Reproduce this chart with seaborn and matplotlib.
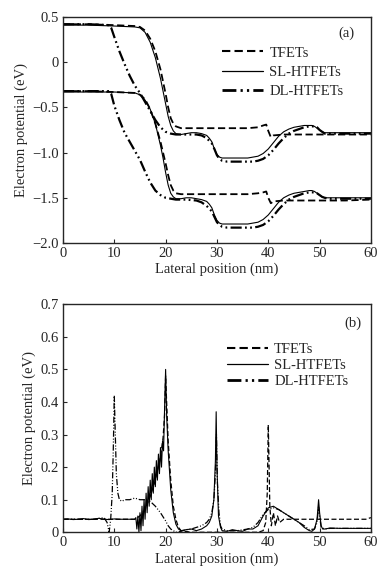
import matplotlib
matplotlib.use("Agg")
import matplotlib.pyplot as plt
from matplotlib.lines import Line2D
import seaborn as sns

# --- DATA: panel (a), conduction band (upper group) ---
tf_cb_x = [0, 5, 10, 14, 15, 16, 17, 18, 19, 20, 20.5, 21, 21.5, 22, 23, 24, 30, 36, 38, 39, 39.6,
           40.0, 40.5, 41, 43, 50, 55, 60]
tf_cb_y = [0.42, 0.42, 0.41, 0.40, 0.39, 0.35, 0.26, 0.12, -0.08, -0.35, -0.50, -0.62, -0.68, -0.71,
           -0.73, -0.73, -0.73, -0.73, -0.72, -0.70, -0.69, -0.76, -0.83, -0.81, -0.80, -0.80, -0.80, -0.80]

sl_x = [0, 5, 10, 14, 15, 16, 17, 18, 19, 19.5, 20, 20.5, 21, 21.5, 22, 23, 24, 25, 26, 27, 28, 28.5,
        29, 29.5, 30, 30.5, 31, 32, 34, 36, 37, 38, 39, 40, 41, 42, 43, 44, 45, 46, 47, 48, 48.5, 49,
        49.5, 50, 50.5, 51, 52, 55, 60]
sl_cb_y = [0.41, 0.41, 0.40, 0.39, 0.38, 0.33, 0.22, 0.05, -0.18, -0.32, -0.46, -0.60, -0.70, -0.76,
           -0.79, -0.80, -0.79, -0.78, -0.78, -0.79, -0.81, -0.84, -0.88, -0.96, -1.02, -1.05, -1.06,
           -1.06, -1.06, -1.06, -1.05, -1.04, -1.01, -0.96, -0.89, -0.82, -0.77, -0.74, -0.72, -0.71,
           -0.70, -0.70, -0.70, -0.71, -0.73, -0.75, -0.77, -0.78, -0.78, -0.78, -0.78]

dl_x = [0, 5, 9, 9.4, 10, 11, 12, 13, 14, 15, 16, 17, 18, 19, 20, 21, 22, 24, 26, 27, 28, 29, 29.5,
        30, 30.5, 31, 32, 34, 36, 37, 38, 39, 40, 41, 42, 43, 44, 45, 46, 47, 48, 49, 49.5, 50, 50.5,
        51, 52, 55, 60]
dl_cb_y = [0.42, 0.42, 0.41, 0.38, 0.28, 0.12, -0.02, -0.15, -0.26, -0.34, -0.44, -0.54, -0.64, -0.72,
           -0.77, -0.79, -0.80, -0.80, -0.80, -0.81, -0.84, -0.90, -0.96, -1.03, -1.07, -1.09, -1.10,
           -1.10, -1.10, -1.10, -1.09, -1.07, -1.03, -0.97, -0.90, -0.84, -0.79, -0.76, -0.74, -0.72,
           -0.71, -0.71, -0.72, -0.75, -0.77, -0.79, -0.79, -0.79, -0.79]

# --- DATA: panel (a), valence band (lower group) ---
tf_vb_y = [-0.32, -0.32, -0.33, -0.34, -0.36, -0.41, -0.52, -0.68, -0.88, -1.12, -1.25, -1.36, -1.42,
           -1.45, -1.46, -1.46, -1.46, -1.46, -1.45, -1.44, -1.43, -1.50, -1.56, -1.54, -1.53, -1.53,
           -1.53, -1.52]
sl_vb_y = [-0.33, -0.33, -0.33, -0.34, -0.36, -0.42, -0.52, -0.68, -0.92, -1.06, -1.22, -1.36, -1.45,
           -1.49, -1.51, -1.51, -1.50, -1.50, -1.51, -1.52, -1.54, -1.57, -1.61, -1.69, -1.75, -1.78,
           -1.79, -1.79, -1.79, -1.79, -1.78, -1.77, -1.74, -1.69, -1.62, -1.55, -1.50, -1.47, -1.45,
           -1.44, -1.43, -1.42, -1.42, -1.43, -1.45, -1.47, -1.49, -1.50, -1.50, -1.50, -1.50]
dl_vb_y = [-0.32, -0.32, -0.32, -0.35, -0.48, -0.64, -0.78, -0.88, -0.98, -1.08, -1.21, -1.33, -1.42,
           -1.47, -1.50, -1.51, -1.52, -1.52, -1.53, -1.55, -1.59, -1.65, -1.71, -1.77, -1.80, -1.82,
           -1.83, -1.83, -1.83, -1.83, -1.82, -1.80, -1.76, -1.70, -1.63, -1.57, -1.52, -1.49, -1.47,
           -1.45, -1.44, -1.44, -1.45, -1.47, -1.49, -1.50, -1.51, -1.51, -1.51]

# --- DATA: panel (b) ---
tf_b_x = [0, 2, 4, 6, 8, 10, 12, 14, 15, 16, 17, 18, 19, 19.5, 19.8, 20.0, 20.2, 20.5, 21, 21.5, 22,
          22.5, 23, 25, 30, 35, 38, 39, 39.5, 39.8, 40.0, 40.1, 40.3, 40.6, 41, 41.4, 41.8, 42.2, 43,
          45, 50, 55, 59, 60]
tf_b_y = [0.04, 0.04, 0.04, 0.04, 0.04, 0.04, 0.04, 0.04, 0.05, 0.07, 0.11, 0.16, 0.23, 0.29, 0.36,
          0.48, 0.40, 0.28, 0.16, 0.08, 0.04, 0.015, 0.005, 0.0, 0.0, 0.0, 0.0, 0.005, 0.03, 0.12, 0.33,
          0.25, 0.08, 0.02, 0.06, 0.02, 0.05, 0.03, 0.04, 0.04, 0.04, 0.04, 0.04, 0.045]

sl_b_x = [0, 1, 2, 3, 4, 5, 6, 7, 8, 9, 10, 11, 12, 13, 14,
          14.2, 14.4, 14.6, 14.8, 15.0, 15.2, 15.4, 15.6, 15.8, 16.0, 16.2, 16.4, 16.6, 16.8,
          17.0, 17.2, 17.4, 17.6, 17.8, 18.0, 18.2, 18.4, 18.6, 18.8, 19.0, 19.2, 19.4, 19.6,
          19.8, 20.0, 20.2, 20.5, 21, 21.5, 22, 22.5, 23, 24, 25, 26, 27, 28, 28.5, 29, 29.4, 29.7,
          29.85, 30.0, 30.3, 30.7, 31, 32, 33, 34, 35, 36, 37, 38, 39, 40, 41, 42, 43, 44, 45, 46, 47,
          48, 48.5, 49, 49.5, 49.8, 50.0, 50.3, 50.6, 51, 52, 54, 56, 58, 60]
sl_b_y = [0.04, 0.041, 0.039, 0.04, 0.042, 0.039, 0.04, 0.043, 0.04, 0.039, 0.041, 0.04, 0.04, 0.04, 0.04,
          0.045, 0.01, 0.05, 0.0, 0.06, 0.005, 0.08, 0.02, 0.10, 0.04, 0.12, 0.06, 0.14, 0.08,
          0.16, 0.10, 0.18, 0.12, 0.20, 0.14, 0.22, 0.16, 0.24, 0.18, 0.26, 0.20, 0.28, 0.25,
          0.38, 0.50, 0.36, 0.25, 0.13, 0.06, 0.025, 0.01, 0.005, 0.008, 0.01, 0.005, 0.01, 0.02, 0.03,
          0.05, 0.10, 0.22, 0.37, 0.20, 0.05, 0.015, 0.005, 0.003, 0.008, 0.005, 0.003, 0.01, 0.01,
          0.02, 0.05, 0.075, 0.08, 0.07, 0.06, 0.05, 0.04, 0.03, 0.015, 0.005, 0.003, 0.01, 0.04, 0.10,
          0.06, 0.02, 0.01, 0.01, 0.013, 0.012, 0.012, 0.012, 0.012]

dl_b_x = [0, 2, 4, 6, 8, 8.6, 9.0, 9.3, 9.6, 9.8, 10.0, 10.2, 10.4, 10.7, 11.0, 11.5, 12, 13, 14, 15,
          16, 17, 18, 19, 20, 20.5, 21, 21.5, 22, 23, 24, 25, 26, 27, 28, 28.5, 29, 29.4, 29.7, 29.9,
          30.1, 30.4, 30.7, 31, 32, 34, 36, 37, 38, 39, 40, 41, 42, 43, 44, 45, 46, 47, 48, 49, 49.5,
          49.8, 50.0, 50.3, 51, 52, 55, 58, 60]
dl_b_y = [0.04, 0.04, 0.04, 0.04, 0.045, 0.03, 0.0, 0.04, 0.12, 0.25, 0.42, 0.30, 0.18, 0.12, 0.10,
          0.095, 0.10, 0.10, 0.105, 0.10, 0.10, 0.095, 0.08, 0.06, 0.035, 0.02, 0.01, 0.005, 0.0, 0.003,
          0.008, 0.01, 0.015, 0.02, 0.03, 0.04, 0.06, 0.10, 0.18, 0.30, 0.15, 0.06, 0.02, 0.01, 0.005,
          0.005, 0.01, 0.015, 0.03, 0.055, 0.07, 0.075, 0.07, 0.06, 0.05, 0.04, 0.03, 0.02, 0.008, 0.01,
          0.03, 0.08, 0.05, 0.015, 0.01, 0.012, 0.012, 0.012, 0.012]

labels = ["TFETs", "SL-HTFETs", "DL-HTFETs"]
a_yticks = [0.5, 0, -0.5, -1.0, -1.5, -2.0]
a_yticklabels = ["0.5", "0", "\u22120.5", "\u22121.0", "\u22121.5", "\u22122.0"]
b_yticks = [0, 0.1, 0.2, 0.3, 0.4, 0.5, 0.6, 0.7]
b_yticklabels = ["0", "0.1", "0.2", "0.3", "0.4", "0.5", "0.6", "0.7"]
xticks = [0, 10, 20, 30, 40, 50, 60]

# --- STYLE ---
sns.set_style("ticks")
plt.rcParams['font.family'] = ['Liberation Serif', 'DejaVu Serif']
plt.rcParams['font.size'] = 10.5
plt.rcParams['xtick.direction'] = 'in'
plt.rcParams['ytick.direction'] = 'in'
plt.rcParams['axes.linewidth'] = 1.0

TF_DASH = (4, 2)
DL_DASH = (5, 1.5, 0.8, 1.5, 0.8, 1.5)


def draw(ax, x, y, kind, thin=False):
    if kind == "tf":
        sns.lineplot(x=x, y=y, ax=ax, color="black", lw=0.9 if thin else 1.3,
                     estimator=None, sort=False).lines[-1].set_dashes(TF_DASH)
    elif kind == "sl":
        sns.lineplot(x=x, y=y, ax=ax, color="black", lw=0.8 if thin else 0.8,
                     estimator=None, sort=False)
    else:
        sns.lineplot(x=x, y=y, ax=ax, color="black", lw=0.9 if thin else 1.6,
                     estimator=None, sort=False).lines[-1].set_dashes(DL_DASH)


def add_legend(ax, anchor, spacing):
    handles = [Line2D([], [], color="black", lw=1.5, dashes=TF_DASH),
               Line2D([], [], color="black", lw=0.9),
               Line2D([], [], color="black", lw=2.0, dashes=DL_DASH)]
    ax.legend(handles, labels, loc="upper left", bbox_to_anchor=anchor, frameon=False,
              borderpad=0, borderaxespad=0, handlelength=2.8, handletextpad=0.45,
              labelspacing=spacing, fontsize=10.5)


fig = plt.figure(figsize=(3.91, 5.78), dpi=100)
ax1 = fig.add_axes([0.161, 0.5796, 0.7877, 0.391])
ax2 = fig.add_axes([0.161, 0.0791, 0.7877, 0.3945])

# panel (a)
draw(ax1, tf_cb_x, tf_cb_y, "tf")
draw(ax1, sl_x, sl_cb_y, "sl")
draw(ax1, dl_x, dl_cb_y, "dl")
draw(ax1, tf_cb_x, tf_vb_y, "tf")
draw(ax1, sl_x, sl_vb_y, "sl")
draw(ax1, dl_x, dl_vb_y, "dl")
ax1.set_xlim(0, 60)
ax1.set_ylim(-2.0, 0.5)
ax1.set_yticks(a_yticks)
ax1.set_yticklabels(a_yticklabels)
ax1.set_xticks(xticks)
ax1.set_xlabel("Lateral position (nm)", labelpad=2)
ax1.set_ylabel("Electron potential (eV)", labelpad=3)
ax1.text(0.922, 0.929, "(a)", transform=ax1.transAxes, ha="center", va="center", fontsize=10.5)
add_legend(ax1, (0.516, 0.87), 0.4)

# panel (b)
draw(ax2, tf_b_x, tf_b_y, "tf", thin=True)
draw(ax2, sl_b_x, sl_b_y, "sl", thin=True)
draw(ax2, dl_b_x, dl_b_y, "dl", thin=True)
ax2.set_xlim(0, 60)
ax2.set_ylim(0, 0.7)
ax2.set_yticks(b_yticks)
ax2.set_yticklabels(b_yticklabels)
ax2.set_xticks(xticks)
ax2.set_xlabel("Lateral position (nm)", labelpad=2)
ax2.set_ylabel("Electron potential (eV)", labelpad=3)
ax2.text(0.94, 0.918, "(b)", transform=ax2.transAxes, ha="center", va="center", fontsize=10.5)
add_legend(ax2, (0.532, 0.83), 0.18)

for ax in (ax1, ax2):
    ax.tick_params(length=3, width=0.8, pad=3)
    for s in ax.spines.values():
        s.set_visible(True)

fig.savefig("out.png", dpi=100)
plt.close(fig)
